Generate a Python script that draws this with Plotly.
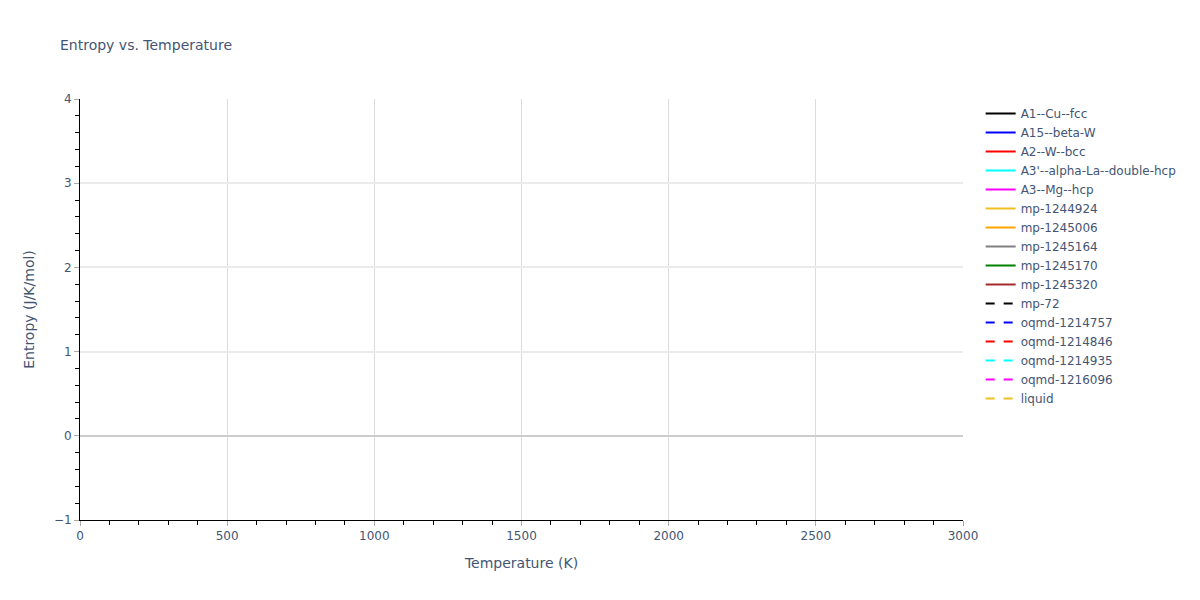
import plotly.graph_objects as go

# phase names, colours and dash styles as shown in the legend
phases = [
    "A1--Cu--fcc",
    "A15--beta-W",
    "A2--W--bcc",
    "A3'--alpha-La--double-hcp",
    "A3--Mg--hcp",
    "mp-1244924",
    "mp-1245006",
    "mp-1245164",
    "mp-1245170",
    "mp-1245320",
    "mp-72",
    "oqmd-1214757",
    "oqmd-1214846",
    "oqmd-1214935",
    "oqmd-1216096",
    "liquid",
]
colors = [
    "black", "blue", "red", "cyan", "magenta", "#f0c020", "orange", "grey",
    "green", "brown", "black", "blue", "red", "cyan", "magenta", "#f0c020",
]
dashes = ["solid"] * 10 + ["dash"] * 6

# the reference draws no curve: every series holds only a missing value
temperature = [None]
entropy = {name: [None] for name in phases}

fig = go.Figure()
for name, color, dash in zip(phases, colors, dashes):
    fig.add_trace(
        go.Scatter(
            x=temperature,
            y=entropy[name],
            mode="lines",
            name=name,
            line=dict(color=color, dash=dash),
        )
    )

axis_style = dict(
    showline=True,
    linecolor="black",
    linewidth=1,
    ticks="outside",
    tickcolor="#aaaaaa",
    ticklen=5,
    showgrid=True,
    title_font_size=14,
    minor=dict(ticks="outside", tickcolor="black", ticklen=4, showgrid=False),
)

# page body has an 8px margin, so the figure is 16px smaller than the window
fig.update_layout(
    template="plotly_white",
    width=1184,
    height=584,
    font=dict(family="Verdana, DejaVu Sans, sans-serif", size=12, color="#445573"),
    title=dict(
        text="Entropy vs. Temperature",
        x=52 / 1184,
        xanchor="left",
        y=1 - 37 / 584,
        yanchor="middle",
        font_size=14,
    ),
    margin=dict(l=72, r=229, t=91, b=72, autoexpand=False),
    legend=dict(x=1.02, y=1, xanchor="left", yanchor="top"),
    showlegend=True,
)
fig.update_xaxes(
    title_text="Temperature (K)",
    range=[0, 3000],
    dtick=500,
    gridcolor="#dcdcdc",
    gridwidth=1,
    zeroline=False,
    minor_dtick=100,
    **axis_style,
)
fig.update_yaxes(
    title_text="Entropy (J/K/mol)",
    range=[-1, 4],
    dtick=1,
    gridcolor="#ebebeb",
    gridwidth=2,
    zeroline=True,
    zerolinecolor="#cccccc",
    zerolinewidth=2,
    minor_dtick=0.2,
    **axis_style,
)

fig.write_html("out.html")
